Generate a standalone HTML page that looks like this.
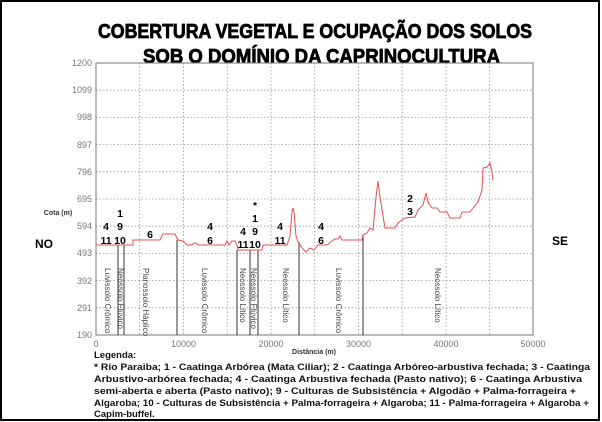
<!DOCTYPE html>
<html><head><meta charset="utf-8"><style>
html,body{margin:0;padding:0;background:#fff;}
svg{display:block;font-family:"Liberation Sans",Arial,sans-serif;}
</style></head><body>
<svg width="602" height="422" viewBox="0 0 602 422" xmlns="http://www.w3.org/2000/svg">
<rect x="0" y="0" width="602" height="422" fill="#fff"/>
<rect x="1" y="1" width="598" height="419" fill="none" stroke="#000" stroke-width="2"/>
<text x="98" y="38" font-weight="bold" font-size="20" stroke="#000" stroke-width="0.8" textLength="434" lengthAdjust="spacingAndGlyphs">COBERTURA VEGETAL E OCUPAÇÃO DOS SOLOS</text>
<text x="143" y="63" font-weight="bold" font-size="20" stroke="#000" stroke-width="0.8" textLength="357" lengthAdjust="spacingAndGlyphs">SOB O DOMÍNIO DA CAPRINOCULTURA</text>
<g stroke="#999" stroke-width="0.8" stroke-dasharray="1.5,2">
<line x1="96" y1="90.2" x2="533" y2="90.2"/><line x1="96" y1="117.4" x2="533" y2="117.4"/><line x1="96" y1="144.6" x2="533" y2="144.6"/><line x1="96" y1="171.8" x2="533" y2="171.8"/><line x1="96" y1="199" x2="533" y2="199"/><line x1="96" y1="226.2" x2="533" y2="226.2"/><line x1="96" y1="253.4" x2="533" y2="253.4"/><line x1="96" y1="280.6" x2="533" y2="280.6"/><line x1="96" y1="307.8" x2="533" y2="307.8"/>
<line x1="139.7" y1="63" x2="139.7" y2="335"/><line x1="183.5" y1="63" x2="183.5" y2="335"/><line x1="227.2" y1="63" x2="227.2" y2="335"/><line x1="271" y1="63" x2="271" y2="335"/><line x1="314.7" y1="63" x2="314.7" y2="335"/><line x1="358.5" y1="63" x2="358.5" y2="335"/><line x1="402.2" y1="63" x2="402.2" y2="335"/><line x1="446" y1="63" x2="446" y2="335"/><line x1="489.7" y1="63" x2="489.7" y2="335"/>
</g>
<rect x="96" y="63" width="437" height="272" fill="none" stroke="#777" stroke-width="1"/>
<g font-size="9" fill="#777" text-anchor="end">
<text x="92" y="66">1200</text><text x="92" y="93">1099</text><text x="92" y="120">998</text><text x="92" y="148">897</text><text x="92" y="175">796</text><text x="92" y="202">695</text><text x="92" y="229">594</text><text x="92" y="256">493</text><text x="92" y="284">392</text><text x="92" y="311">291</text><text x="92" y="338">190</text>
</g>
<g font-size="9" fill="#777" text-anchor="middle">
<text x="96" y="347">0</text><text x="183.5" y="347">10000</text><text x="271" y="347">20000</text><text x="358.5" y="347">30000</text><text x="446" y="347">40000</text><text x="533" y="347">50000</text>
</g>
<text x="314" y="354" font-size="7" font-weight="bold" fill="#333" text-anchor="middle">Distância (m)</text>
<text x="58" y="215" font-size="7" font-weight="bold" fill="#333" text-anchor="middle">Cota (m)</text>
<text x="44" y="248" font-size="12" font-weight="bold" text-anchor="middle">NO</text>
<text x="560" y="245" font-size="12" font-weight="bold" text-anchor="middle">SE</text>
<g stroke="#333" stroke-width="1">
<line x1="118" y1="245" x2="118" y2="335"/><line x1="124" y1="245" x2="124" y2="335"/><line x1="177" y1="240" x2="177" y2="335"/><line x1="237" y1="250" x2="237" y2="335"/><line x1="250" y1="250" x2="250" y2="335"/><line x1="258" y1="250" x2="258" y2="335"/><line x1="299" y1="242" x2="299" y2="335"/><line x1="363" y1="235" x2="363" y2="335"/>
</g>
<polyline fill="none" stroke="#e05050" stroke-width="1" points="96,245 133,245 133,240 160,240 163,234 175,234 178,240 183,241 187,245 192,245 194,243 196,243 198,245 225,245 227,241 229,245 232,241 235,241 237,245 238,250 262,250 263,245 287,245 290,236 292,212 293,208 294,212 296,236 298,242 303,249 306,252 310,248 314,250 318,245 327,245 332,241 335,239 338,239 340,236 342,240 345,240 362,240 363,235 367,233 370,228 373,230 376,197 378,181 380,197 385,228 395,228 398,223 402,220 405,218 415,217 418,210 423,205 426,193 428,202 432,208 437,208 440,212 447,212 450,218 460,218 462,212 470,212 473,208 478,202 482,190 483,168 487,167 490,163 492,172 493,180"/>
<g font-size="8" fill="#444">
<text transform="translate(105,268) rotate(90)">Luvissolo Crômico</text>
<text transform="translate(118,268) rotate(90)">Neossolo Flúvico</text>
<text transform="translate(143,268) rotate(90)">Planossolo Háplico</text>
<text transform="translate(202,268) rotate(90)">Luvissolo Crômico</text>
<text transform="translate(240,268) rotate(90)">Neossolo Lítico</text>
<text transform="translate(251,268) rotate(90)">Neossolo Flúvico</text>
<text transform="translate(283,268) rotate(90)">Neossolo Lítico</text>
<text transform="translate(336,268) rotate(90)">Luvissolo Crômico</text>
<text transform="translate(435,268) rotate(90)">Neossolo Lítico</text>
</g>
<g font-size="10.5" font-weight="bold" text-anchor="middle">
<text x="106" y="230">4</text><text x="106" y="244">11</text>
<text x="120" y="217">1</text><text x="120" y="230">9</text><text x="120" y="244">10</text>
<text x="150" y="238">6</text>
<text x="210" y="230">4</text><text x="210" y="244">6</text>
<text x="255" y="209">*</text><text x="255" y="222">1</text><text x="255" y="235">9</text><text x="255" y="248">10</text>
<text x="243" y="235">4</text><text x="243" y="248">11</text>
<text x="280" y="230">4</text><text x="280" y="244">11</text>
<text x="321" y="230">4</text><text x="321" y="244">6</text>
<text x="410" y="202">2</text><text x="410" y="215">3</text>
</g>
<g font-size="9.5" font-weight="bold" fill="#111" lengthAdjust="spacingAndGlyphs">
<text x="94" y="358">Legenda:</text>
<text x="94" y="370" textLength="496" lengthAdjust="spacingAndGlyphs">* Rio Paraiba; 1 - Caatinga Arbórea (Mata Ciliar); 2 - Caatinga Arbóreo-arbustiva fechada; 3 - Caatinga</text>
<text x="94" y="382" textLength="488" lengthAdjust="spacingAndGlyphs">Arbustivo-arbórea fechada; 4 - Caatinga Arbustiva fechada (Pasto nativo); 6 - Caatinga Arbustiva</text>
<text x="94" y="394" textLength="482" lengthAdjust="spacingAndGlyphs">semi-aberta e aberta (Pasto nativo); 9 - Culturas de Subsistência + Algodão + Palma-forrageira +</text>
<text x="94" y="406" textLength="495" lengthAdjust="spacingAndGlyphs">Algaroba; 10 - Culturas de Subsistência + Palma-forrageira + Algaroba; 11 - Palma-forrageira + Algaroba +</text>
<text x="94" y="417">Capim-buffel.</text>
</g>
</svg>
</body></html>
